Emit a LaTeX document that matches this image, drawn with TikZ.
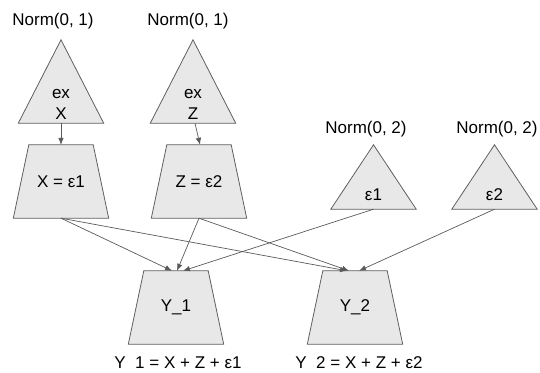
\documentclass[tikz,border=0pt]{standalone}
\usepackage{fontspec}
\setmainfont{Liberation Sans}
\usetikzlibrary{arrows.meta,backgrounds}

\definecolor{shapegray}{HTML}{E8E8E8}
\definecolor{edgegray}{HTML}{5F5F5F}
\definecolor{linegray}{HTML}{5A5A5A}

\tikzset{
  txt/.style={inner sep=0pt, align=center, font=\fontsize{17}{21}\selectfont},
  shapestyle/.style={fill=shapegray, draw=edgegray, line width=0.8pt},
  % invisible boxes that carry the anchors of the outlines drawn behind them
  tribox/.style={rectangle, inner sep=0pt, minimum width=85pt, minimum height=#1},
  trapbox/.style={rectangle, inner sep=0pt, minimum width=95pt, minimum height=73pt,
    font=\fontsize{17}{21}\selectfont},
  arr/.style={draw=linegray, line width=0.7pt, -{Latex[length=7pt,width=5.5pt]}},
}

\begin{document}
\begin{tikzpicture}[x=1pt,y=-1pt]
\useasboundingbox (0,0) rectangle (540,372);
\clip (0,0) rectangle (540,369.5);

% distribution triangles
\node[tribox=83pt] (exX) at (61,81.5) {};
\node[tribox=83pt] (exZ) at (193,81.5) {};
\node[tribox=64pt] (e1) at (373.5,177) {};
\node[tribox=64pt] (e2) at (494.5,177) {};

% texts in and above the triangles
\node[txt] (exXt) at (61,104.5) {ex\\X};
\node[txt] (exZt) at (193,104.5) {ex\\Z};
\node[txt] (e1t) at (373.5,195) {ε1};
\node[txt] (e2t) at (494.5,195) {ε2};
\node[txt] (nX) at (53,21) {Norm(0, 1)};
\node[txt] (nZ) at (188,21) {Norm(0, 1)};
\node[txt] (n1) at (366,129) {Norm(0, 2)};
\node[txt] (n2) at (497,129) {Norm(0, 2)};

% structural equations
\node[trapbox] (Xb) at (61,181.5) {X = ε1};
\node[trapbox] (Zb) at (199,181.5) {Z = ε2};
\node[trapbox] (Y1) at (176,307.5) {Y\_1};
\node[trapbox] (Y2) at (355,307.5) {Y\_2};

\node[txt, anchor=base] (Y1t) at (178,368.5) {Y\_1 = X + Z + ε1};
\node[txt, anchor=base] (Y2t) at (359,368.5) {Y\_2 = X + Z + ε2};

% outlines behind the texts
\begin{scope}[on background layer]
  \foreach \t in {exX,exZ,e1,e2}
    \path[shapestyle] (\t.south west) -- (\t.north) -- (\t.south east) -- cycle;
  \foreach \t in {Xb,Zb,Y1,Y2}
    \path[shapestyle] (\t.south west) -- ([xshift=15.5pt]\t.north west)
      -- ([xshift=-15.5pt]\t.north east) -- (\t.south east) -- cycle;
\end{scope}

% connectors
\draw[arr] (exX.south) -- (Xb.north);
\draw[arr] ([xshift=2pt]exZ.south) -- ([xshift=1pt]Zb.north);
\draw[arr] (Xb.south) -- ([xshift=-4pt]Y1.north);
\draw[arr] (Xb.south) -- ([xshift=-8pt]Y2.north);
\draw[arr] (Zb.south) -- ([xshift=1pt]Y1.north);
\draw[arr] (Zb.south) -- ([xshift=-6pt]Y2.north);
\draw[arr] (e1.south) -- ([xshift=7pt]Y1.north);
\draw[arr] (e2.south) -- ([xshift=4pt]Y2.north);
\end{tikzpicture}
\end{document}
